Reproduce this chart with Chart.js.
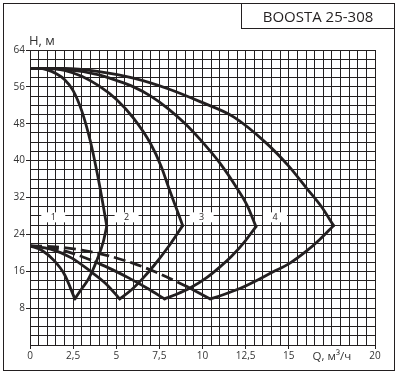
<!DOCTYPE html>
<html>
<head>
<meta charset="utf-8">
<script src="https://cdn.jsdelivr.net/npm/chart.js@4.4.0/dist/chart.umd.min.js"></script>
<style>
  html, body { margin: 0; padding: 0; background: #fff; }
  #wrap { position: relative; width: 401px; height: 378px; }
  #frame { position: absolute; left: 3px; top: 3px; width: 390px; height: 366px; border: 1px solid #231f20; pointer-events: none; }
  #title { position: absolute; left: 241px; top: 3px; width: 152px; height: 25px; border-left: 1px solid #231f20; border-bottom: 1px solid #231f20;
           font: 15px 'Open Sans'; color: #231f20; text-align: center; line-height: 27px; }
  canvas { position: absolute; left: 0; top: 0; }
</style>
</head>
<body>
<div id="wrap">
  <canvas id="pumpChart" width="401" height="378"></canvas>
  <div id="frame"></div>
  <div id="title">BOOSTA 25-308</div>
</div>
<script>
// --- DATA (Q, м³/ч ; H, м) ---

// H-Q kurver for hastighed 1-4
const hq1Q = [0, 0.5, 1.0, 1.5, 2.0, 2.5, 3.0, 3.5, 3.9, 4.2, 4.45];
const hq1H = [60, 60, 59.7, 58.9, 57.6, 55.2, 50.8, 44.2, 37.2, 31.2, 25.8];
const hq2Q = [0, 1, 2, 3, 4, 5, 6, 7, 7.6, 8.1, 8.5, 8.85];
const hq2H = [60, 60, 59.6, 58.3, 56.2, 53.3, 49.2, 43.6, 38.8, 33.5, 29.5, 25.9];
const hq3Q = [0, 2, 4, 5, 6, 7, 8, 9, 9.86, 11, 12, 12.6, 13.1];
const hq3H = [60, 59.8, 58.6, 57.4, 56, 54, 51.3, 48, 44.6, 39.5, 34, 30.2, 25.7];
const hq4Q = [0, 2, 4, 6, 8, 9.86, 11.8, 13.7, 15, 16.04, 16.9, 17.6];
const hq4H = [60, 60, 59.3, 57.9, 55.6, 52.8, 49.5, 43.8, 38.8, 34, 30, 25.9];

// nederste højre kant (fra bundpunkt til max flow)
const seg1Q = [2.6, 3.0, 3.4, 3.9, 4.25, 4.45];
const seg1H = [10, 12.2, 14.4, 18.6, 22.4, 25.8];
const seg2Q = [5.2, 5.8, 6.5, 7.2, 8.0, 8.85];
const seg2H = [10, 11.7, 14.3, 17.3, 21.2, 25.9];
const seg3Q = [7.8, 8.5, 9.3, 10.2, 11.0, 11.7, 12.4, 13.1];
const seg3H = [10, 11.0, 12.4, 14.5, 16.9, 19.3, 22.2, 25.7];
const seg4Q = [10.45, 11.2, 12.2, 13.2, 14.1, 15.0, 16.0, 16.8, 17.6];
const seg4H = [10, 10.9, 12.3, 14.1, 15.9, 17.6, 20.3, 22.9, 25.9];

// venstre kurver fra (0; 21,5) ned til bundpunkterne
const sys1Q = [0, 0.7, 1.4, 2.0, 2.6];
const sys1H = [21.5, 20.5, 18.3, 15.3, 10];
const sys2Q = [0, 1.2, 2.4, 3.5, 4.4, 5.2];
const sys2H = [21.5, 20.8, 18.9, 16.0, 13.3, 10];
const sys3DashQ = [0, 1, 2, 3, 3.8];
const sys3DashH = [21.5, 21.2, 20.4, 19.2, 18.0];
const sys3Q = [3.8, 4.8, 5.8, 6.8, 7.8];
const sys3H = [18.0, 16.3, 14.4, 12.3, 10];
const sys4DashQ = [0, 1.5, 3, 4.5, 6, 7.25, 8.3, 9.2];
const sys4DashH = [21.5, 21.3, 20.6, 19.4, 17.7, 15.9, 14.1, 12.5];
const sys4Q = [9.2, 9.8, 10.45];
const sys4H = [12.5, 11.3, 10];

// kurve-numre
const labelText = ['1', '2', '3', '4'];
const labelQ = [1.35, 5.6, 9.95, 14.2];
const labelH = 27.7;

// akse-tekster
const xLabelValues = [0, 2.5, 5, 7.5, 10, 12.5, 15, 17.5, 20];
const xLabelTexts = ['0', '2,5', '5', '7,5', '10', '12,5', '15', 'Q, м³/ч', '20'];
const yLabelValues = [8, 16, 24, 32, 40, 48, 56, 64];

const LINE = '#231f20';
const TEXT = '#333333';
const FONT = "'Open Sans'";

// --- HJÆLPEFUNKTIONER ---
function pts(qs, hs) {
    return qs.map((q, i) => ({ x: q, y: hs[i] }));
}

function solid(qs, hs) {
    return {
        data: pts(qs, hs),
        borderColor: LINE,
        borderWidth: 2.8,
        pointRadius: 0,
        showLine: true,
        fill: false,
        cubicInterpolationMode: 'monotone',
        borderCapStyle: 'round',
        borderJoinStyle: 'round'
    };
}

function dashed(qs, hs) {
    return Object.assign(solid(qs, hs), { borderDash: [12, 5], borderCapStyle: 'butt' });
}

function xLabelIndex(v) {
    return xLabelValues.findIndex(l => Math.abs(l - v) < 1e-6);
}

function isYLabel(v) {
    return yLabelValues.some(l => Math.abs(l - v) < 1e-6);
}

// kurve-numre i hvide felter + "H, м"
const curveLabels = {
    id: 'curveLabels',
    beforeDatasetsDraw(chart) {
        const { ctx, scales: { x, y }, chartArea } = chart;
        ctx.save();
        ctx.font = '9px ' + FONT;
        ctx.textAlign = 'center';
        ctx.textBaseline = 'middle';
        labelQ.forEach((q, i) => {
            const px = x.getPixelForValue(q);
            const py = y.getPixelForValue(labelH);
            ctx.fillStyle = '#fff';
            ctx.fillRect(px - 12, py - 5, 24, 10);
            ctx.fillStyle = LINE;
            ctx.fillText(labelText[i], px, py);
        });
        ctx.font = '13px ' + FONT;
        ctx.textAlign = 'left';
        ctx.textBaseline = 'alphabetic';
        ctx.fillStyle = TEXT;
        ctx.fillText('H, м', chartArea.left - 1, chartArea.top - 5);
        ctx.restore();
    }
};

function renderChart() {
    const ctx = document.getElementById('pumpChart').getContext('2d');
    new Chart(ctx, {
        type: 'scatter',
        data: {
            datasets: [
                solid(hq1Q, hq1H), solid(hq2Q, hq2H), solid(hq3Q, hq3H), solid(hq4Q, hq4H),
                solid(seg1Q, seg1H), solid(seg2Q, seg2H), solid(seg3Q, seg3H), solid(seg4Q, seg4H),
                solid(sys1Q, sys1H), solid(sys2Q, sys2H),
                dashed(sys3DashQ, sys3DashH), solid(sys3Q, sys3H),
                dashed(sys4DashQ, sys4DashH), solid(sys4Q, sys4H)
            ]
        },
        options: {
            responsive: false,
            animation: false,
            devicePixelRatio: 1,
            layout: { padding: { top: 50, right: 26, left: 0, bottom: 0 } },
            plugins: { legend: { display: false }, tooltip: { enabled: false } },
            scales: {
                x: {
                    type: 'linear', min: 0, max: 20,
                    afterFit: s => { s.height = 33; },
                    grid: {
                        color: LINE, lineWidth: 1, tickLength: 4,
                        tickColor: c => {
                            const i = c.tick ? xLabelIndex(c.tick.value) : -1;
                            return (i >= 0 && i !== 7) ? LINE : 'rgba(0,0,0,0)';
                        }
                    },
                    border: { color: LINE, width: 1 },
                    ticks: {
                        stepSize: 0.5, maxTicksLimit: 100, autoSkip: false, maxRotation: 0, padding: 1,
                        color: TEXT,
                        font: c => ({ family: FONT, size: (c.tick && xLabelIndex(c.tick.value) === 7) ? 11.5 : 10 }),
                        callback: v => {
                            const i = xLabelIndex(v);
                            return i >= 0 ? xLabelTexts[i] : '';
                        }
                    }
                },
                y: {
                    type: 'linear', min: 0, max: 64,
                    afterFit: s => { s.width = 30; },
                    grid: {
                        color: LINE, lineWidth: 1, tickLength: 4,
                        tickColor: c => (c.tick && isYLabel(c.tick.value)) ? LINE : 'rgba(0,0,0,0)'
                    },
                    border: { color: LINE, width: 1 },
                    ticks: {
                        stepSize: 2, maxTicksLimit: 100, autoSkip: false, padding: 1,
                        color: TEXT,
                        font: { family: FONT, size: 10 },
                        callback: v => isYLabel(v) ? String(v) : ''
                    }
                }
            }
        },
        plugins: [curveLabels]
    });
}

document.fonts.load("10px 'Open Sans'").then(renderChart, renderChart);
</script>
</body>
</html>
